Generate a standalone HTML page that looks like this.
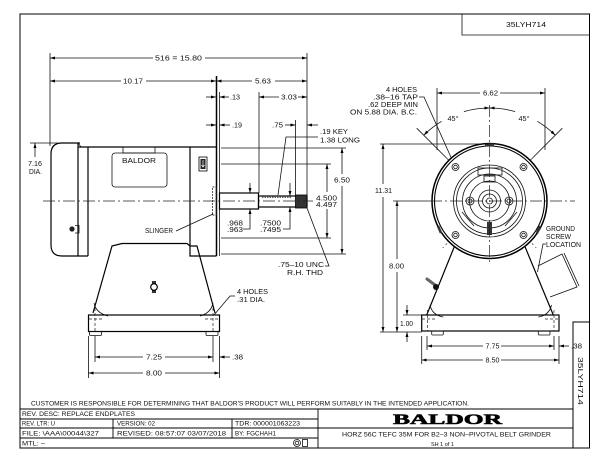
<!DOCTYPE html>
<html><head><meta charset="utf-8"><style>
html,body{margin:0;padding:0;background:#fff;}
svg{display:block;}
.l{stroke:#111;stroke-width:0.8;fill:none;}
.o{stroke:#000;stroke-width:1.2;fill:none;}
.c{stroke:#222;stroke-width:0.7;fill:none;stroke-dasharray:12 3 2 3;}
.d{stroke:#222;stroke-width:0.7;fill:none;stroke-dasharray:3 2;}
text{font-family:"Liberation Sans",sans-serif;font-size:7px;fill:#111;}
.s{font-size:6px;}
</style></head><body>
<svg width="600" height="464" viewBox="0 0 600 464" xmlns="http://www.w3.org/2000/svg">
<defs>
<marker id="a" viewBox="0 0 10 6" refX="10" refY="3" markerWidth="5" markerHeight="3" markerUnits="userSpaceOnUse" orient="auto-start-reverse"><path d="M0,0 L10,3 L0,6 z" fill="#000"/></marker>
</defs>
<rect width="600" height="464" fill="#fff"/>
<!-- frame -->
<rect x="20" y="14" width="569.5" height="434" fill="none" stroke="#000" stroke-width="1"/>
<path class="l" d="M462,14 V35 H589.5"/>
<text x="506" y="27" textLength="40" lengthAdjust="spacingAndGlyphs">35LYH714</text>

<!-- ===== LEFT VIEW ===== -->
<path class="l" d="M50,58 H153" marker-start="url(#a)"/>
<path class="l" d="M205,58 H307" marker-end="url(#a)"/>
<text x="155" y="60.5" textLength="47" lengthAdjust="spacingAndGlyphs">516 = 15.80</text>
<path class="l" d="M50,53 V146"/>
<path class="l" d="M307,53 V195"/>
<path class="l" d="M50,81 H121" marker-start="url(#a)"/>
<path class="l" d="M146,81 H216" marker-end="url(#a)"/>
<text x="123" y="83.5" textLength="20" lengthAdjust="spacingAndGlyphs">10.17</text>
<path class="l" d="M216.5,81 H252" marker-start="url(#a)"/>
<path class="l" d="M275,81 H307" marker-end="url(#a)"/>
<text x="255" y="83.5" textLength="16" lengthAdjust="spacingAndGlyphs">5.63</text>
<path class="l" d="M206,97 H216" marker-end="url(#a)"/>
<path class="l" d="M229,97 H219.5" marker-end="url(#a)"/>
<text x="230" y="99.5" textLength="10" lengthAdjust="spacingAndGlyphs">.13</text>
<path class="l" d="M206,125 H216" marker-end="url(#a)"/>
<path class="l" d="M230,125 H219.5" marker-end="url(#a)"/>
<text x="232" y="127.5" textLength="10" lengthAdjust="spacingAndGlyphs">.19</text>
<path class="l" d="M259,97 H279" marker-start="url(#a)"/>
<path class="l" d="M298,97 H307" marker-end="url(#a)"/>
<text x="281" y="99.5" textLength="16" lengthAdjust="spacingAndGlyphs">3.03</text>
<path class="l" d="M259,92 V193"/>
<text x="272" y="127.5" textLength="11" lengthAdjust="spacingAndGlyphs">.75</text>
<path class="l" d="M285,125 H295.5" marker-end="url(#a)"/>
<path class="l" d="M318,125 H307" marker-end="url(#a)"/>
<path class="l" d="M295.5,120 V195"/>
<text x="320" y="134" textLength="28" lengthAdjust="spacingAndGlyphs">.19 KEY</text>
<text x="320" y="142.5" textLength="40" lengthAdjust="spacingAndGlyphs">1.38 LONG</text>
<path class="l" d="M318,137 H286 L278,195"/>
<path class="l" d="M221,148 H346 M221,164 H331 M221,238 H331 M221,254 H346"/>
<path class="l" d="M327,164 V192" marker-start="url(#a)"/>
<path class="l" d="M327,209 V238" marker-end="url(#a)"/>
<text x="316" y="200.5" textLength="21" lengthAdjust="spacingAndGlyphs">4.500</text>
<text x="316" y="206.8" textLength="21" lengthAdjust="spacingAndGlyphs">4.497</text>
<path class="l" d="M342,148 V174" marker-start="url(#a)"/>
<path class="l" d="M342,186 V254" marker-end="url(#a)"/>
<text x="334" y="182.5" textLength="16" lengthAdjust="spacingAndGlyphs">6.50</text>
<!-- motor body -->
<path class="o" d="M80,143 H62 Q51,143 51,154 V245 Q51,256 62,256 H88"/>
<path class="l" d="M78,143 L81,147"/>
<path class="o" d="M78,143 V256 M88,147 V256 M78,147 H216.5 M190,147 V256 H216.5"/>
<path d="M216.5,76 V256" stroke="#000" stroke-width="1.5" fill="none"/>
<path class="l" d="M219.5,92 V256"/>
<rect x="112" y="153" width="55" height="34" rx="3" class="l"/>
<rect x="123" y="147" width="32" height="6" class="l"/>
<text x="122" y="163" textLength="34" lengthAdjust="spacingAndGlyphs" style="font-size:7.5px">BALDOR</text>
<rect x="199" y="157" width="8" height="14" fill="#fff" stroke="#000" stroke-width="0.8"/>
<rect x="200.5" y="159" width="5" height="10" fill="#222"/>
<path d="M203,160 V167 M201.5,165 L203,167 L204.5,165" stroke="#fff" stroke-width="0.7" fill="none"/>
<rect x="212.5" y="187" width="3.5" height="28" fill="none" stroke="#444" stroke-width="0.9" stroke-dasharray="2 1"/>
<text x="145" y="233" textLength="28" lengthAdjust="spacingAndGlyphs">SLINGER</text>
<path class="l" d="M176,231 L213,214"/>
<circle cx="72" cy="229" r="2.6" fill="#222"/>
<path class="l" d="M75,225.5 H79 V233 H75"/>
<path class="l" d="M30,143 H58"/>
<path class="l" d="M35,157 V143" marker-end="url(#a)"/>
<text x="28" y="166" textLength="14" lengthAdjust="spacingAndGlyphs">7.16</text>
<text x="29" y="174" textLength="13" lengthAdjust="spacingAndGlyphs">DIA.</text>
<!-- shaft -->
<rect x="219.5" y="193" width="39" height="16" class="o"/>
<rect x="258.5" y="196" width="48.5" height="11" class="o"/>
<rect x="295.5" y="195" width="11.5" height="13" fill="#333" stroke="#000" stroke-width="0.8"/>
<path d="M262,197.3 H292" stroke="#333" stroke-width="1" stroke-dasharray="1.5 1"/>
<path class="c" d="M43,201 H313"/>
<path class="l" d="M250,183 V193" marker-end="url(#a)"/>
<path class="l" d="M243,229 H250 V209" marker-end="url(#a)"/>
<text x="227" y="225.5" textLength="16" lengthAdjust="spacingAndGlyphs">.968</text>
<text x="227" y="231.8" textLength="16" lengthAdjust="spacingAndGlyphs">.963</text>
<path class="l" d="M290,183 V196" marker-end="url(#a)"/>
<path class="l" d="M283,229 H290 V207" marker-end="url(#a)"/>
<text x="260" y="225.5" textLength="21" lengthAdjust="spacingAndGlyphs">.7500</text>
<text x="260" y="231.8" textLength="21" lengthAdjust="spacingAndGlyphs">.7495</text>
<path class="l" d="M307,208 L329,266 H325"/>
<text x="278" y="267" textLength="46" lengthAdjust="spacingAndGlyphs">.75–10 UNC</text>
<text x="287" y="275" textLength="36" lengthAdjust="spacingAndGlyphs">R.H. THD</text>
<!-- pedestal -->
<path class="o" d="M93,313 L112,246 L122,243.5 H187 L190,246 H197 L215,313"/>
<path class="l" d="M94,303 Q96,313 108,316 M213,303 Q211,313 200,316"/>
<rect x="88.5" y="315" width="131" height="16.5" class="o"/>
<rect x="89.5" y="331.5" width="12" height="4" rx="1" class="l"/>
<rect x="206" y="331.5" width="12" height="4" rx="1" class="l"/>
<path class="d" d="M95,308 V331 M213,308 V331 M89,319 H102 M205,319 H219"/>
<rect x="152" y="281" width="4" height="12" fill="#333"/>
<circle cx="154" cy="287" r="3.3" fill="#fff" stroke="#000" stroke-width="1.2"/>
<text x="237" y="294" textLength="31" lengthAdjust="spacingAndGlyphs">4 HOLES</text>
<text x="237" y="302" textLength="28" lengthAdjust="spacingAndGlyphs">.31 DIA.</text>
<path class="l" d="M235,296 H230 L214,315"/>
<path class="l" d="M88.5,336 V378 M95,336 V362 M213,336 V362 M219.5,336 V378"/>
<path class="l" d="M95,357 H143" marker-start="url(#a)"/>
<path class="l" d="M165,357 H213" marker-end="url(#a)"/>
<text x="146" y="359.5" textLength="16" lengthAdjust="spacingAndGlyphs">7.25</text>
<path class="l" d="M230,357 H219.5" marker-end="url(#a)"/>
<text x="232" y="359.5" textLength="11" lengthAdjust="spacingAndGlyphs">.38</text>
<path class="l" d="M88.5,373 H143" marker-start="url(#a)"/>
<path class="l" d="M165,373 H219.5" marker-end="url(#a)"/>
<text x="146" y="375.5" textLength="16" lengthAdjust="spacingAndGlyphs">8.00</text>

<!-- ===== FRONT VIEW ===== -->
<path class="l" d="M437,88 V150 M545,88 V150"/>
<path class="l" d="M437,93 H480" marker-start="url(#a)"/>
<path class="l" d="M500,93 H545" marker-end="url(#a)"/>
<text x="483" y="95.5" textLength="15" lengthAdjust="spacingAndGlyphs">6.62</text>
<path class="l" d="M423.74,135.24 A93,93 0 0 1 441.6,121.3" marker-start="url(#a)"/>
<path class="l" d="M463.9,111.6 A93,93 0 0 1 489.5,108" marker-end="url(#a)"/>
<path class="l" d="M489.5,108 A93,93 0 0 1 515.1,111.6" marker-start="url(#a)"/>
<path class="l" d="M537.4,121.3 A93,93 0 0 1 555.26,135.24" marker-end="url(#a)"/>
<text x="447.5" y="121" textLength="11" lengthAdjust="spacingAndGlyphs">45°</text>
<text x="518.5" y="121" textLength="11" lengthAdjust="spacingAndGlyphs">45°</text>
<path class="l" d="M416.7,128.2 L446,157.5 M562.3,128.2 L533,157.5"/>
<path class="c" d="M446,157.5 L471.8,183.3 M533,157.5 L507.2,183.3 M471.8,218.7 L442.8,247.7 M507.2,218.7 L536.2,247.7"/>
<text x="417" y="92" text-anchor="end" textLength="31" lengthAdjust="spacingAndGlyphs">4 HOLES</text>
<text x="418" y="99.5" text-anchor="end" textLength="45" lengthAdjust="spacingAndGlyphs">.38–16 TAP</text>
<text x="418" y="107" text-anchor="end" textLength="50" lengthAdjust="spacingAndGlyphs">.62 DEEP MIN</text>
<text x="417" y="114.5" text-anchor="end" textLength="67" lengthAdjust="spacingAndGlyphs">ON 5.88 DIA. B.C.</text>
<path class="l" d="M419,97 H424 L454,164"/>
<circle cx="489.5" cy="201" r="57.5" fill="#fff" stroke="#000" stroke-width="1.5"/>
<circle cx="489.5" cy="201" r="55" fill="none" stroke="#000" stroke-width="1.1"/>
<circle cx="489.5" cy="201" r="36" class="l"/>
<circle cx="489.5" cy="201" r="33" class="l"/>
<circle cx="489.5" cy="201" r="27" class="l"/>
<circle cx="489.5" cy="201" r="20" class="l"/>
<circle cx="489.5" cy="201" r="11" class="l"/>
<circle cx="489.5" cy="201" r="7" class="l"/>
<circle cx="489.5" cy="201" r="3" class="l"/>
<g class="l">
<circle cx="455.5" cy="167" r="3.5"/><circle cx="455.5" cy="167" r="1.8"/>
<circle cx="523.5" cy="167" r="3.5"/><circle cx="523.5" cy="167" r="1.8"/>
<circle cx="455.5" cy="235" r="3.5"/><circle cx="455.5" cy="235" r="1.8"/>
<circle cx="523.5" cy="235" r="3.5"/><circle cx="523.5" cy="235" r="1.8"/>
<circle cx="470" cy="201" r="4"/><circle cx="470" cy="201" r="2"/>
<circle cx="509" cy="201" r="4"/><circle cx="509" cy="201" r="2"/>
<rect x="478" y="168" width="24" height="7"/>
<rect x="484" y="176" width="11" height="6"/>
<path d="M462,212 L474,226 M517,212 L505,226"/>
</g>
<rect x="487" y="222" width="5" height="13" fill="#333"/>
<rect x="485" y="143.5" width="9" height="3" fill="#333"/>
<path d="M438,226 L441,233" stroke="#333" stroke-width="2.5"/>
<path d="M540,226 L537,233" stroke="#333" stroke-width="2.5"/>
<path class="l" d="M393,201 H430"/>
<path class="c" d="M430,201 H575"/>
<path class="c" d="M489.5,105 V265"/>
<path class="l" d="M380,144 H489"/>
<path class="l" d="M383,144 V184" marker-start="url(#a)"/>
<path class="l" d="M383,197 V332" marker-end="url(#a)"/>
<text x="375" y="193" textLength="17" lengthAdjust="spacingAndGlyphs">11.31</text>
<path class="l" d="M397,201 V259" marker-start="url(#a)"/>
<path class="l" d="M397,272 V332" marker-end="url(#a)"/>
<text x="389" y="268.5" textLength="15" lengthAdjust="spacingAndGlyphs">8.00</text>
<path class="l" d="M380,332 H421.7 M403,315 H421.7"/>
<path class="l" d="M407,305 V315" marker-end="url(#a)"/>
<path class="l" d="M407,342 V332" marker-end="url(#a)"/>
<text x="400" y="326" textLength="13" lengthAdjust="spacingAndGlyphs">1.00</text>
<path class="o" d="M454.3,246.7 L426.7,315 M525,246.7 L553.3,315"/>
<path class="l" d="M430,305 Q432,315 443.3,317 M551.5,305 Q549.5,315 538.3,317"/>
<rect x="421.7" y="315" width="137.3" height="16" class="o"/>
<rect x="431.7" y="331" width="11.6" height="4" rx="1" class="l"/>
<rect x="538.3" y="331" width="11.7" height="4" rx="1" class="l"/>
<path class="d" d="M427.5,310 V331 M554,310 V331 M422,319 H435 M545,319 H558"/>
<path d="M427,279 L435,285" stroke="#666" stroke-width="3" stroke-linecap="round"/>
<circle cx="436" cy="287" r="3" fill="#111"/>
<path class="l" d="M538,266 L562,254 L577,287 L550,297"/>
<path class="l" d="M564,253 L579,286"/>
<path class="l" d="M546,244 H543 L537.5,272"/>
<text x="546" y="231" textLength="29" lengthAdjust="spacingAndGlyphs">GROUND</text>
<text x="546" y="239" textLength="25" lengthAdjust="spacingAndGlyphs">SCREW</text>
<text x="546" y="247" textLength="35" lengthAdjust="spacingAndGlyphs">LOCATION</text>
<path class="l" d="M421.7,336 V364 M427,336 V350 M554,336 V350 M559,336 V364"/>
<path class="l" d="M427,346 H483" marker-start="url(#a)"/>
<path class="l" d="M501,346 H554" marker-end="url(#a)"/>
<text x="485.5" y="348.5" textLength="14" lengthAdjust="spacingAndGlyphs">7.75</text>
<path class="l" d="M421.7,360 H483" marker-start="url(#a)"/>
<path class="l" d="M501,360 H559" marker-end="url(#a)"/>
<text x="485.5" y="362.5" textLength="14" lengthAdjust="spacingAndGlyphs">8.50</text>
<path class="l" d="M569,346 H559" marker-end="url(#a)"/>

<!-- right strip -->
<path fill="none" stroke="#000" stroke-width="1" d="M573,448 V322 H589.5"/>
<text x="571" y="348.5" textLength="11" lengthAdjust="spacingAndGlyphs">.38</text>
<text transform="translate(578,357) rotate(90)" x="0" y="0" textLength="48" lengthAdjust="spacingAndGlyphs">35LYH714</text>

<!-- title block -->
<text x="31" y="405.3" textLength="438" lengthAdjust="spacingAndGlyphs" style="font-size:6.5px">CUSTOMER IS RESPONSIBLE FOR DETERMINING THAT BALDOR'S PRODUCT WILL PERFORM SUITABLY IN THE INTENDED APPLICATION.</text>
<path fill="none" stroke="#000" stroke-width="0.9" d="M20,409 H573 M20,419 H318 M20,428 H573 M20,438 H318 M318,409 V448 M113,419 V438 M232,419 V438"/>
<text class="s" x="22" y="416" textLength="113" lengthAdjust="spacingAndGlyphs">REV. DESC:  REPLACE ENDPLATES</text>
<text class="s" x="22" y="425.5" textLength="33" lengthAdjust="spacingAndGlyphs">REV. LTR:  U</text>
<text class="s" x="117" y="425.5" textLength="38" lengthAdjust="spacingAndGlyphs">VERSION: 02</text>
<text class="s" x="235" y="425.5" textLength="65" lengthAdjust="spacingAndGlyphs">TDR: 000001063223</text>
<text class="s" x="22" y="435.5" textLength="77" lengthAdjust="spacingAndGlyphs">FILE: \AAA\00044\327</text>
<text class="s" x="117" y="435.5" textLength="109" lengthAdjust="spacingAndGlyphs">REVISED: 08:57:07  03/07/2018</text>
<text class="s" x="235" y="435.5" textLength="41" lengthAdjust="spacingAndGlyphs">BY: FGCHAH1</text>
<text class="s" x="22" y="445.5" textLength="23" lengthAdjust="spacingAndGlyphs">MTL: –</text>
<circle cx="297" cy="443" r="3.5" class="l"/>
<circle cx="297" cy="443" r="1.8" class="l"/>
<rect x="302.5" y="439.5" width="5" height="7" class="l"/>
<text x="393" y="424" textLength="109" lengthAdjust="spacingAndGlyphs" style="font-family:'Liberation Serif',serif;font-weight:bold;font-size:15px;fill:#000;stroke:#000;stroke-width:0.6">BALDOR</text>
<text class="s" x="342" y="436.5" textLength="209" lengthAdjust="spacingAndGlyphs">HORZ 56C TEFC 35M FOR B2–3 NON–PIVOTAL BELT GRINDER</text>
<text x="431" y="446" style="font-size:5.5px">SH 1 of 1</text>
</svg>
</body></html>
